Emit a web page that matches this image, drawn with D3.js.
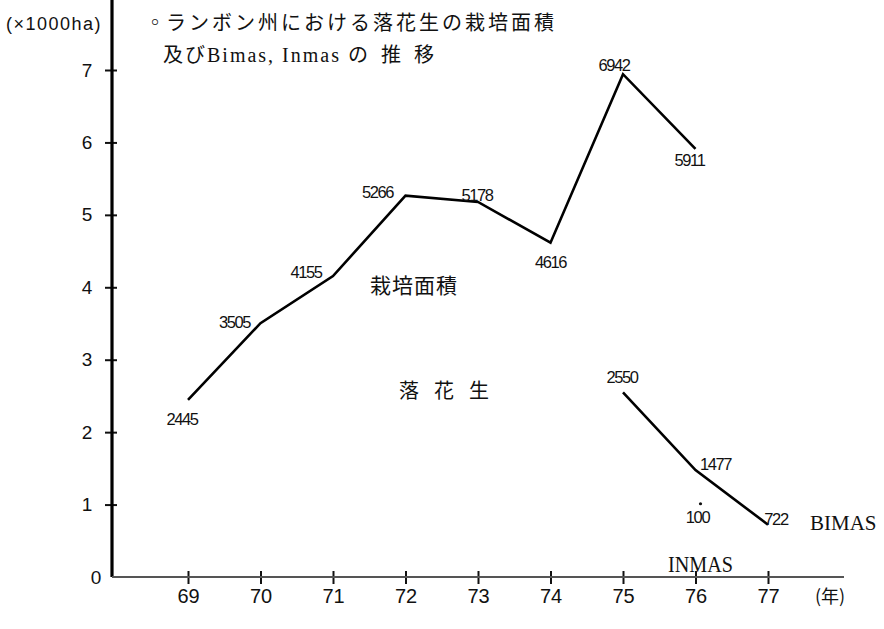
<!DOCTYPE html>
<html>
<head>
<meta charset="utf-8">
<script src="https://cdn.jsdelivr.net/npm/d3@7"></script>
<style>
  body { margin: 0; background: #fff; }
  svg { display: block; }
  .cjk { font-family: "Noto Sans CJK JP", sans-serif; }
  .num { font-family: "Liberation Sans", Arial, sans-serif; }
  .latin { font-family: "Liberation Serif", serif; }
</style>
</head>
<body>
<div id="chart"></div>
<script>
// Data (values in ha, plotted as x1000ha)
const YEARS = [69, 70, 71, 72, 73, 74, 75, 76, 77];
const Y_TICKS = [0, 1, 2, 3, 4, 5, 6, 7];
const AREA_YEARS = [69, 70, 71, 72, 73, 74, 75, 76];
const AREA_VALUES = [2445, 3505, 4155, 5266, 5178, 4616, 6942, 5911];
const BIMAS_YEARS = [75, 76, 77];
const BIMAS_VALUES = [2550, 1477, 722];
const INMAS_YEARS = [76];
const INMAS_VALUES = [100];

// label offsets from each point [dx, dy]
const AREA_LABEL_OFFSETS = [[-6, 25], [-26, 5], [-27, 2], [-28, 2], [-1, -1], [0, 25], [-9, -3], [-6, 17]];
const BIMAS_LABEL_OFFSETS = [[-1, -9], [20, 0], [8, 0]];
const INMAS_LABEL_OFFSETS = [[2, -47]];

const WIDTH = 884;
const HEIGHT = 629;

const svg = d3.select("#chart")
  .append("svg")
  .attr("width", WIDTH)
  .attr("height", HEIGHT);

const x = d3.scaleLinear().domain([69, 77]).range([188, 768]);
const y = d3.scaleLinear().domain([0, 7]).range([577, 70]);

// y axis
const yAxis = svg.append("g")
  .attr("transform", "translate(112,0)")
  .call(d3.axisLeft(y).tickValues(Y_TICKS).tickSize(7).tickPadding(0).tickFormat(d3.format("d")));
yAxis.select(".domain").remove();
yAxis.selectAll(".tick line")
  .attr("x1", 5)
  .attr("stroke", "#111")
  .attr("stroke-width", 2)
  .filter(d => d === 0).remove();
yAxis.selectAll(".tick text")
  .attr("class", "num")
  .attr("x", d => d === 0 ? -16 : -25)
  .attr("text-anchor", "middle")
  .style("font-size", "19px")
  .attr("fill", "#111");

svg.append("line")
  .attr("x1", 112).attr("x2", 112)
  .attr("y1", 0).attr("y2", y(0))
  .attr("stroke", "#000")
  .attr("stroke-width", 3.2);

// x axis
const xAxis = svg.append("g")
  .attr("transform", `translate(0,${y(0)})`)
  .call(d3.axisBottom(x).tickValues(YEARS).tickSize(7).tickFormat(d3.format("d")));
xAxis.select(".domain").remove();
xAxis.selectAll(".tick line")
  .attr("y1", -6)
  .attr("stroke", "#111")
  .attr("stroke-width", 2);
xAxis.selectAll(".tick text")
  .attr("class", "num")
  .attr("dy", null)
  .attr("y", 26)
  .style("font-size", "20px")
  .attr("fill", "#111");

svg.append("line")
  .attr("x1", 112).attr("x2", 844)
  .attr("y1", y(0)).attr("y2", y(0))
  .attr("stroke", "#555")
  .attr("stroke-width", 2);

svg.append("text")
  .attr("class", "cjk")
  .attr("x", 815).attr("y", 603)
  .style("font-size", "18px")
  .attr("fill", "#111")
  .text("(年)");

// unit label
svg.append("text")
  .attr("class", "num")
  .attr("x", 6).attr("y", 30)
  .style("font-size", "18px")
  .style("letter-spacing", "1.5px")
  .attr("fill", "#111")
  .text("(×1000ha)");

// title
const title1 = svg.append("text")
  .attr("class", "cjk")
  .attr("x", 145).attr("y", 30)
  .style("font-size", "20px")
  .attr("fill", "#111");
title1.append("tspan").text("◦");
title1.append("tspan").attr("x", 166).style("letter-spacing", "3px").text("ランボン州における落花生の栽培面積");

const title2 = svg.append("text")
  .attr("class", "cjk")
  .attr("x", 163).attr("y", 62)
  .style("font-size", "20px")
  .attr("fill", "#111");
title2.append("tspan").style("letter-spacing", "2px").text("及び");
title2.append("tspan").attr("class", "latin").style("letter-spacing", "2px").text("Bimas, Inmas ");
title2.append("tspan").style("letter-spacing", "13px").text("の推移");

// series
const line = d3.line()
  .x(d => x(d[0]))
  .y(d => y(d[1] / 1000));

function drawSeries(years, values, offsets, showLine) {
  const pts = years.map((yr, i) => [yr, values[i]]);
  if (showLine) {
    svg.append("path")
      .datum(pts)
      .attr("fill", "none")
      .attr("stroke", "#000")
      .attr("stroke-width", 2.6)
      .attr("stroke-linejoin", "miter")
      .attr("d", line);
  }
  svg.append("g")
    .selectAll("text")
    .data(pts)
    .join("text")
    .attr("class", "num")
    .attr("x", (d, i) => x(d[0]) + offsets[i][0])
    .attr("y", (d, i) => y(d[1] / 1000) + offsets[i][1])
    .attr("text-anchor", "middle")
    .style("font-size", "16.5px")
    .style("letter-spacing", "-1.4px")
    .attr("fill", "#111")
    .text(d => d[1]);
}

drawSeries(AREA_YEARS, AREA_VALUES, AREA_LABEL_OFFSETS, true);
drawSeries(BIMAS_YEARS, BIMAS_VALUES, BIMAS_LABEL_OFFSETS, true);
drawSeries(INMAS_YEARS, INMAS_VALUES, INMAS_LABEL_OFFSETS, false);

// INMAS marker dot (drawn above its label as in the original)
svg.append("circle")
  .attr("cx", x(INMAS_YEARS[0]) + 5)
  .attr("cy", y(INMAS_VALUES[0] / 1000) - 66)
  .attr("r", 1.6)
  .attr("fill", "#111");

// series names
svg.append("text")
  .attr("class", "cjk")
  .attr("x", 370).attr("y", 293)
  .style("font-size", "21px")
  .style("letter-spacing", "1px")
  .attr("fill", "#111")
  .text("栽培面積");

svg.append("text")
  .attr("class", "cjk")
  .attr("x", 399).attr("y", 398)
  .style("font-size", "20px")
  .style("letter-spacing", "15px")
  .attr("fill", "#111")
  .text("落花生");

svg.append("text")
  .attr("class", "latin")
  .attr("x", 810).attr("y", 530)
  .style("font-size", "21px")
  .attr("fill", "#111")
  .text("BIMAS");

svg.append("text")
  .attr("class", "latin")
  .attr("x", 668).attr("y", 572)
  .attr("textLength", 65)
  .attr("lengthAdjust", "spacingAndGlyphs")
  .style("font-size", "23px")
  .attr("fill", "#111")
  .text("INMAS");
</script>
</body>
</html>
